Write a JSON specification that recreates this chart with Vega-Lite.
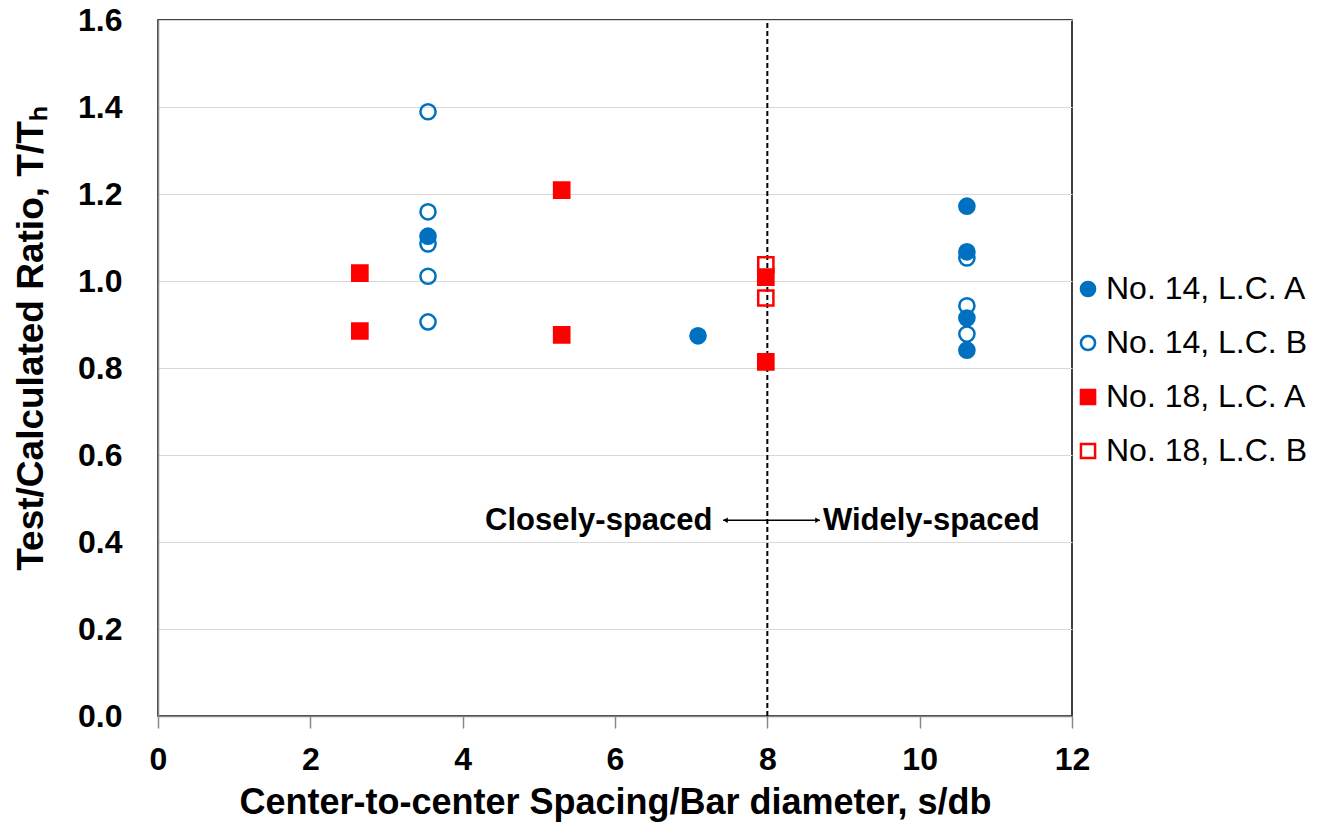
{
  "$schema": "https://vega.github.io/schema/vega-lite/v6.json",
  "autosize": {"type": "none"},
  "padding": {"left": 158, "top": 20, "right": 255, "bottom": 112},
  "width": 914,
  "height": 696,
  "background": "white",
  "config": {
    "font": "Liberation Sans",
    "view": {"stroke": "#000000", "strokeWidth": 1.5}
  },
  "datasets": {
    "pts": [
      {"series": "No. 14, L.C. B", "sdb": 3.545, "ratio": 1.389},
      {"series": "No. 14, L.C. B", "sdb": 3.545, "ratio": 1.159},
      {"series": "No. 14, L.C. B", "sdb": 3.545, "ratio": 1.085},
      {"series": "No. 14, L.C. B", "sdb": 3.545, "ratio": 1.011},
      {"series": "No. 14, L.C. B", "sdb": 3.545, "ratio": 0.906},
      {"series": "No. 14, L.C. B", "sdb": 10.62, "ratio": 1.053},
      {"series": "No. 14, L.C. B", "sdb": 10.62, "ratio": 0.943},
      {"series": "No. 14, L.C. B", "sdb": 10.62, "ratio": 0.878},
      {"series": "No. 18, L.C. B", "sdb": 7.98, "ratio": 1.037},
      {"series": "No. 18, L.C. B", "sdb": 7.98, "ratio": 0.961},
      {"series": "No. 14, L.C. A", "sdb": 3.545, "ratio": 1.103},
      {"series": "No. 14, L.C. A", "sdb": 7.09, "ratio": 0.874},
      {"series": "No. 14, L.C. A", "sdb": 10.62, "ratio": 1.172},
      {"series": "No. 14, L.C. A", "sdb": 10.62, "ratio": 1.067},
      {"series": "No. 14, L.C. A", "sdb": 10.62, "ratio": 0.915},
      {"series": "No. 14, L.C. A", "sdb": 10.62, "ratio": 0.841},
      {"series": "No. 18, L.C. A", "sdb": 2.65, "ratio": 1.018},
      {"series": "No. 18, L.C. A", "sdb": 2.65, "ratio": 0.885},
      {"series": "No. 18, L.C. A", "sdb": 5.3, "ratio": 1.209},
      {"series": "No. 18, L.C. A", "sdb": 5.3, "ratio": 0.876},
      {"series": "No. 18, L.C. A", "sdb": 7.98, "ratio": 1.009},
      {"series": "No. 18, L.C. A", "sdb": 7.98, "ratio": 0.814}
    ]
  },
  "layer": [
    {
      "data": {"values": [{"x": 8, "y": 0, "y2": 1.6}]},
      "mark": {"type": "rule", "color": "#000000", "strokeWidth": 2, "strokeDash": [5, 3]},
      "encoding": {
        "x": {"field": "x", "type": "quantitative", "scale": {"domain": [0, 12]},
          "axis": {
            "values": [0, 2, 4, 6, 8, 10, 12],
            "format": "d",
            "labelFlush": false,
            "title": "Center-to-center Spacing/Bar diameter, s/db",
            "titleFontSize": 36, "titleFontWeight": "bold", "titleColor": "#000000", "titlePadding": 10,
            "labelFontSize": 32, "labelFontWeight": "bold", "labelColor": "#000000", "labelPadding": 16,
            "grid": false, "domainColor": "#888888", "domainWidth": 1.5,
            "tickColor": "#888888", "tickSize": 12, "tickWidth": 1.5
          }},
        "y": {"field": "y", "type": "quantitative", "scale": {"domain": [0, 1.6]},
          "axis": {
            "values": [0, 0.2, 0.4, 0.6, 0.8, 1.0, 1.2, 1.4, 1.6],
            "format": ".1f",
            "labelFlush": false,
            "title": "Test/Calculated Ratio, T/Tₕ",
            "titleFontSize": 37, "titleFontWeight": "bold", "titleColor": "#000000", "titlePadding": 27,
            "titleY": 318,
            "labelFontSize": 32, "labelFontWeight": "bold", "labelColor": "#000000", "labelPadding": 36,
            "grid": true, "gridColor": "#d9d9d9", "gridWidth": 1.2,
            "ticks": false, "domainColor": "#888888", "domainWidth": 1.5
          }},
        "y2": {"field": "y2"}
      }
    },
    {
      "data": {"values": [{"x": 7.42, "x2": 8.69, "y": 0.45}]},
      "mark": {"type": "rule", "color": "#000000", "strokeWidth": 1.5},
      "encoding": {
        "x": {"field": "x", "type": "quantitative"},
        "x2": {"field": "x2"},
        "y": {"field": "y", "type": "quantitative"}
      }
    },
    {
      "data": {"values": [{"x": 7.45, "y": 0.45, "s": "triangle-left"}, {"x": 8.66, "y": 0.45, "s": "triangle-right"}]},
      "mark": {"type": "point", "filled": true, "color": "#000000", "opacity": 1, "size": 30},
      "encoding": {
        "x": {"field": "x", "type": "quantitative"},
        "y": {"field": "y", "type": "quantitative"},
        "shape": {"field": "s", "type": "nominal", "scale": null}
      }
    },
    {
      "data": {"values": [{"x": 7.28, "y": 0.448, "t": "Closely-spaced"}]},
      "mark": {"type": "text", "align": "right", "baseline": "middle", "fontSize": 31, "fontWeight": "bold", "color": "#000000"},
      "encoding": {
        "x": {"field": "x", "type": "quantitative"},
        "y": {"field": "y", "type": "quantitative"},
        "text": {"field": "t"}
      }
    },
    {
      "data": {"values": [{"x": 8.73, "y": 0.448, "t": "Widely-spaced"}]},
      "mark": {"type": "text", "align": "left", "baseline": "middle", "fontSize": 31, "fontWeight": "bold", "color": "#000000"},
      "encoding": {
        "x": {"field": "x", "type": "quantitative"},
        "y": {"field": "y", "type": "quantitative"},
        "text": {"field": "t"}
      }
    },
    {
      "data": {"name": "pts"},
      "mark": {"type": "point", "strokeWidth": 2.5, "opacity": 1, "size": 230},
      "encoding": {
        "x": {"field": "sdb", "type": "quantitative"},
        "y": {"field": "ratio", "type": "quantitative"},
        "fill": {"field": "series", "type": "nominal",
          "scale": {"domain": ["No. 14, L.C. A", "No. 14, L.C. B", "No. 18, L.C. A", "No. 18, L.C. B"],
                    "range": ["#0070C0", "transparent", "#FF0000", "transparent"]},
          "legend": {
            "title": null, "orient": "none", "legendX": 914, "legendY": 253,
            "labelFontSize": 32, "labelColor": "#000000", "labelOffset": 2,
            "rowPadding": 22, "symbolSize": 200, "symbolStrokeWidth": 2.5, "labelLimit": 400
          }},
        "stroke": {"field": "series", "type": "nominal",
          "scale": {"domain": ["No. 14, L.C. A", "No. 14, L.C. B", "No. 18, L.C. A", "No. 18, L.C. B"],
                    "range": ["#0070C0", "#0070C0", "#FF0000", "#FF0000"]}},
        "shape": {"field": "series", "type": "nominal",
          "scale": {"domain": ["No. 14, L.C. A", "No. 14, L.C. B", "No. 18, L.C. A", "No. 18, L.C. B"],
                    "range": ["circle", "circle", "square", "square"]}},
        "order": {"field": "series", "sort": "descending"}
      }
    }
  ]
}
